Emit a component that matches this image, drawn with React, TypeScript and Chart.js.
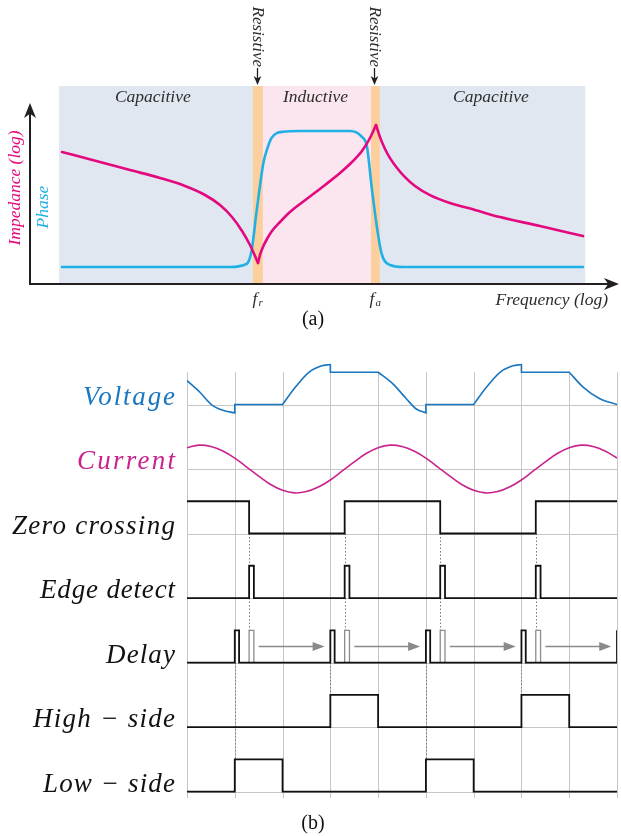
import React, { useEffect, useRef } from "react";
import { Chart, registerables } from "chart.js";

Chart.register(...registerables);

// ===================== (a) impedance / phase vs frequency =====================
// x: log-frequency units (0..100), y: log-impedance / phase units (0..100)
const impedanceFalling = [
  [5.5, 66.67], [12.03, 61.62], [17.18, 57.58], [22.34, 53.54], [26.63, 49.49], [30.07, 44.95],
  [32.65, 39.9], [34.71, 33.84], [36.43, 26.77], [37.8, 19.7], [38.66, 14.14], [39.18, 10.61],
];
const impedanceRising = [
  [39.18, 10.61], [39.52, 14.65], [40.03, 18.69], [40.72, 22.73], [41.58, 26.77], [42.96, 31.31],
  [44.67, 36.36], [46.39, 40.4], [48.45, 44.95], [50.69, 50.0], [53.26, 56.06], [55.33, 61.62],
  [57.04, 67.17], [58.42, 73.74], [59.45, 80.3],
];
const impedanceAfterPeak = [
  [59.45, 80.3], [60.14, 74.2], [61.0, 68.2], [61.86, 63.6], [63.06, 58.6], [64.43, 54.0],
  [66.15, 49.5], [68.73, 44.9], [72.16, 40.9], [76.46, 37.4], [80.76, 33.8], [87.63, 29.3],
  [95.02, 24.2],
];
const phasePoints = [
  [5.5, 8.6], [34.4, 8.6], [37.2, 10.1], [38.1, 17.2], [38.9, 35.9], [40.1, 61.1],
  [40.7, 67.7], [41.5, 73.7], [43.5, 76.9], [46.4, 77.3], [55.0, 77.3], [57.0, 74.4],
  [57.9, 69.3], [58.7, 49.1], [59.6, 28.9], [60.4, 15.5], [61.9, 9.6], [64.1, 8.6],
  [95.0, 8.6],
];
const shadedSpan = [5.0, 95.4];
const resonanceBand = [38.3, 40.0];
const antiResonanceBand = [58.6, 60.1];
const regionNames = ["Capacitive", "Inductive", "Capacitive"];
const regionCenters = [21.1, 49.05, 79.2];

// ===================== (b) timing diagram =====================
const rowLabels = ["Voltage", "Current", "Zero crossing", "Edge detect", "Delay", "High − side", "Low − side"];
const gridColumns = [0, 1, 2, 3, 4, 5, 6, 7, 8, 9];
const currentTimes = [
  0, 0.25, 0.5, 0.75, 1, 1.25, 1.5, 1.75, 2, 2.25, 2.5, 2.75, 3, 3.25, 3.5, 3.75, 4, 4.25, 4.5,
  4.75, 5, 5.25, 5.5, 5.75, 6, 6.25, 6.5, 6.75, 7, 7.25, 7.5, 7.75, 8, 8.25, 8.5, 8.75, 9,
];
const currentValues = [
  0.33, 0.37, 0.35, 0.28, 0.17, 0.03, -0.11, -0.24, -0.33, -0.37, -0.35, -0.28, -0.17, -0.03,
  0.11, 0.24, 0.33, 0.37, 0.35, 0.28, 0.17, 0.03, -0.11, -0.24, -0.33, -0.37, -0.35, -0.28,
  -0.17, -0.03, 0.11, 0.24, 0.33, 0.37, 0.35, 0.28, 0.17,
];
const voltageCurves = [
  [[0, 0.37], [0.27, 0.19], [0.51, 0.0], [0.75, -0.09], [1, -0.13]],
  [[2, 0], [2.27, 0.27], [2.55, 0.5], [2.82, 0.6], [3, 0.62]],
  [[4, 0.5], [4.31, 0.32], [4.59, 0.09], [4.8, -0.07], [5, -0.13]],
  [[6, 0], [6.27, 0.27], [6.55, 0.5], [6.82, 0.6], [7, 0.62]],
  [[8, 0.5], [8.29, 0.27], [8.64, 0.09], [9, 0]],
];
const voltageSteps = [
  [[1, -0.13], [1, 0], [2, 0]],
  [[3, 0.62], [3, 0.5], [4, 0.5]],
  [[5, -0.13], [5, 0], [6, 0]],
  [[7, 0.62], [7, 0.5], [8, 0.5]],
];
const zeroCrossingHigh = [[0, 1.3], [3.3, 5.3], [7.3, 9]];
const edgeDetectPulses = [[1.3, 1.4], [3.3, 3.4], [5.3, 5.4], [7.3, 7.4]];
const delayPulses = [[1.0, 1.09], [3.0, 3.09], [5.0, 5.09], [7.0, 7.09], [9.0, 9.09]];
const delayEchoPulses = [[1.3, 1.4], [3.3, 3.4], [5.3, 5.4], [7.3, 7.4]];
const highSidePulses = [[3, 4], [7, 8]];
const lowSidePulses = [[1, 2], [5, 6]];

// ---------- styles ----------
const IMP_COLOR = "#e4087f";
const PHASE_COLOR = "#1fb0e6";
const VOLT_COLOR = "#1a76bf";
const CURR_COLOR = "#c9238c";
const GRID_COLOR = "#c6c6c6";
const SERIF = '"Liberation Serif", "Times New Roman", serif';
const labelWidths = [92, 98, 163, 135, 69, 142, 132];
const labelColors = [VOLT_COLOR, CURR_COLOR, "#111", "#111", "#111", "#111", "#111"];
const X_END = 9;
const PULSE_H = 0.5;

function stealth(ctx: CanvasRenderingContext2D, tx: number, ty: number, dx: number, dy: number, len: number, half: number) {
  const bx = tx - dx * len;
  const by = ty - dy * len;
  const nx = -dy;
  const ny = dx;
  ctx.beginPath();
  ctx.moveTo(tx, ty);
  ctx.lineTo(bx + nx * half, by + ny * half);
  ctx.lineTo(tx - dx * len * 0.72, ty - dy * len * 0.72);
  ctx.lineTo(bx - nx * half, by - ny * half);
  ctx.closePath();
  ctx.fill();
}

const pts = (arr: number[][], off = 0) => arr.map(([x, y]) => ({ x, y: y + off }));

const panelAPlugin = {
  id: "panelA",
  beforeDatasetsDraw(chart: any) {
    const { ctx, scales } = chart;
    const x = scales.x;
    const y = scales.y;
    const top = y.getPixelForValue(100);
    const bottom = y.getPixelForValue(0);
    const px = (v: number) => x.getPixelForValue(v);
    ctx.save();
    ctx.fillStyle = "#e1e7f1";
    ctx.fillRect(px(shadedSpan[0]), top, px(shadedSpan[1]) - px(shadedSpan[0]), bottom - top);
    ctx.fillStyle = "#fbe5ef";
    ctx.fillRect(px(resonanceBand[1]), top, px(antiResonanceBand[0]) - px(resonanceBand[1]), bottom - top);
    ctx.fillStyle = "#fdcf9c";
    for (const b of [resonanceBand, antiResonanceBand]) {
      ctx.fillRect(px(b[0]), top, px(b[1]) - px(b[0]), bottom - top);
    }
    ctx.restore();
  },
  afterDatasetsDraw(chart: any) {
    const { ctx, chartArea: ca, scales } = chart;
    const x = scales.x;
    const y = scales.y;
    const px = (v: number) => x.getPixelForValue(v);
    const top = y.getPixelForValue(100);
    ctx.save();
    // axes
    ctx.strokeStyle = "#231f20";
    ctx.fillStyle = "#231f20";
    ctx.lineWidth = 2;
    ctx.beginPath();
    ctx.moveTo(ca.left, ca.bottom);
    ctx.lineTo(ca.left, ca.top + 26);
    ctx.moveTo(ca.left - 1, ca.bottom);
    ctx.lineTo(ca.right + 1, ca.bottom);
    ctx.stroke();
    stealth(ctx, ca.left, ca.top + 17, 0, -1, 15, 6);
    stealth(ctx, ca.right + 7, ca.bottom, 1, 0, 15, 6);

    // region labels
    ctx.font = `italic 17.5px ${SERIF}`;
    ctx.fillStyle = "#2d2d2d";
    ctx.textAlign = "center";
    ctx.textBaseline = "alphabetic";
    regionNames.forEach((n, i) => ctx.fillText(n, px(regionCenters[i]), y.getPixelForValue(91.7)));

    // resistive markers
    for (const b of [resonanceBand, antiResonanceBand]) {
      const cx = Math.round(px((b[0] + b[1]) / 2)) - 0.5;
      ctx.save();
      ctx.translate(cx, top - 19);
      ctx.rotate(Math.PI / 2);
      ctx.font = `italic 17px ${SERIF}`;
      ctx.fillStyle = "#2d2d2d";
      ctx.textAlign = "right";
      ctx.textBaseline = "middle";
      ctx.fillText("Resistive", 0, 0);
      ctx.restore();
      ctx.strokeStyle = "#231f20";
      ctx.fillStyle = "#231f20";
      ctx.lineWidth = 1.3;
      ctx.beginPath();
      ctx.moveTo(cx, top - 18);
      ctx.lineTo(cx, top - 6);
      ctx.stroke();
      stealth(ctx, cx, top - 1, 0, 1, 9, 3.8);
      // f labels
      ctx.font = `italic 17.5px ${SERIF}`;
      ctx.fillStyle = "#2d2d2d";
      ctx.textAlign = "left";
      ctx.textBaseline = "alphabetic";
      ctx.fillText("f", cx - 5, ca.bottom + 20);
    }
    ctx.font = `italic 11px ${SERIF}`;
    ctx.fillText("r", Math.round(px((resonanceBand[0] + resonanceBand[1]) / 2)) + 0.5, ca.bottom + 22);
    ctx.fillText("a", Math.round(px((antiResonanceBand[0] + antiResonanceBand[1]) / 2)) + 0.5, ca.bottom + 22);

    // axis titles
    ctx.font = `italic 17.5px ${SERIF}`;
    ctx.textAlign = "right";
    ctx.fillStyle = "#2d2d2d";
    ctx.fillText("Frequency (log)", ca.right - 4, ca.bottom + 21);

    ctx.save();
    ctx.translate(15, 188);
    ctx.rotate(-Math.PI / 2);
    ctx.textAlign = "center";
    ctx.textBaseline = "middle";
    ctx.fillStyle = IMP_COLOR;
    ctx.fillText("Impedance (log)", 0, 0);
    ctx.restore();
    ctx.save();
    ctx.translate(43, 207);
    ctx.rotate(-Math.PI / 2);
    ctx.textAlign = "center";
    ctx.textBaseline = "middle";
    ctx.fillStyle = PHASE_COLOR;
    ctx.fillText("Phase", 0, 0);
    ctx.restore();

    ctx.font = `20px ${SERIF}`;
    ctx.fillStyle = "#111";
    ctx.textAlign = "center";
    ctx.fillText("(a)", 313, ca.bottom + 41);
    ctx.restore();
  },
};

function pulseTrain(pulses: number[][], base: number) {
  const out: { x: number; y: number }[] = [];
  if (!(pulses.length && pulses[0][0] <= 0)) out.push({ x: 0, y: base });
  for (const [s, e] of pulses) {
    if (s > 0) out.push({ x: s, y: base }, { x: s, y: base + PULSE_H });
    else out.push({ x: 0, y: base + PULSE_H });
    if (e >= X_END) {
      out.push({ x: X_END, y: base + PULSE_H });
      return out;
    }
    out.push({ x: e, y: base + PULSE_H }, { x: e, y: base });
  }
  out.push({ x: X_END, y: base });
  return out;
}

const rowBase = (i: number) => rowLabels.length - 1 - i;

const panelBPlugin = {
  id: "panelB",
  beforeDatasetsDraw(chart: any) {
    const { ctx, scales } = chart;
    const x = scales.x;
    const y = scales.y;
    ctx.save();
    ctx.strokeStyle = GRID_COLOR;
    ctx.lineWidth = 1;
    for (const c of gridColumns) {
      const p = Math.round(x.getPixelForValue(c)) + 0.5;
      ctx.beginPath();
      ctx.moveTo(p, y.getPixelForValue(6.5));
      ctx.lineTo(p, y.getPixelForValue(-0.1));
      ctx.stroke();
    }
    rowLabels.forEach((_, i) => {
      const p = Math.round(y.getPixelForValue(rowBase(i))) + 0.5;
      ctx.beginPath();
      ctx.moveTo(x.getPixelForValue(0), p);
      ctx.lineTo(x.getPixelForValue(X_END), p);
      ctx.stroke();
    });
    // dotted causal links
    ctx.strokeStyle = "#7a7a7a";
    ctx.setLineDash([1.5, 2]);
    const vdot = (xv: number, y0: number, y1: number) => {
      const p = Math.round(x.getPixelForValue(xv)) + 0.5;
      ctx.beginPath();
      ctx.moveTo(p, y.getPixelForValue(y0));
      ctx.lineTo(p, y.getPixelForValue(y1));
      ctx.stroke();
    };
    const zcBase = rowBase(2);
    const edBase = rowBase(3);
    const dlBase = rowBase(4);
    const hsBase = rowBase(5);
    const lsBase = rowBase(6);
    for (const [s] of edgeDetectPulses) {
      vdot(s, zcBase, edBase + PULSE_H);
      vdot(s, edBase, dlBase + PULSE_H);
    }
    for (const [s] of delayPulses) {
      if (s >= X_END) continue;
      const hs = highSidePulses.some((p) => p[0] === s);
      vdot(s, dlBase, hs ? hsBase + PULSE_H : lsBase + PULSE_H);
    }
    ctx.restore();
  },
  afterDatasetsDraw(chart: any) {
    const { ctx, scales } = chart;
    const x = scales.x;
    const y = scales.y;
    ctx.save();
    // arrows in delay row
    const dlBase = rowBase(4);
    ctx.strokeStyle = "#8a8a8a";
    ctx.fillStyle = "#8a8a8a";
    ctx.lineWidth = 1.4;
    delayEchoPulses.forEach(([, e], i) => {
      const next = delayPulses[i + 1];
      if (!next) return;
      const x0 = x.getPixelForValue(e + 0.1);
      const x1 = x.getPixelForValue(next[0] - 0.12);
      const py = Math.round(y.getPixelForValue(dlBase + 0.25)) + 0.5;
      ctx.beginPath();
      ctx.moveTo(x0, py);
      ctx.lineTo(x1 - 8, py);
      ctx.stroke();
      ctx.beginPath();
      ctx.moveTo(x1, py);
      ctx.lineTo(x1 - 12, py - 4.5);
      ctx.lineTo(x1 - 12, py + 4.5);
      ctx.closePath();
      ctx.fill();
    });
    // row labels
    ctx.font = `italic 27px ${SERIF}`;
    ctx.textBaseline = "alphabetic";
    ctx.textAlign = "left";
    const right = x.getPixelForValue(0) - 12;
    rowLabels.forEach((t, i) => {
      const c: any = ctx;
      if ("letterSpacing" in c) c.letterSpacing = "0px";
      const w0 = ctx.measureText(t).width;
      const sp = (labelWidths[i] - w0) / Math.max(1, t.length - 1);
      if ("letterSpacing" in c) c.letterSpacing = `${sp.toFixed(2)}px`;
      ctx.fillStyle = labelColors[i];
      ctx.fillText(t, right - labelWidths[i], y.getPixelForValue(rowBase(i)));
    });
    const c: any = ctx;
    if ("letterSpacing" in c) c.letterSpacing = "0px";
    ctx.font = `20px ${SERIF}`;
    ctx.fillStyle = "#111";
    ctx.textAlign = "center";
    ctx.fillText("(b)", 313, y.getPixelForValue(-0.1) + 31);
    ctx.restore();
  },
};

function configA(): any {
  const line = (data: number[][], color: string, order: number) => ({
    data: pts(data),
    borderColor: color,
    borderWidth: 2.6,
    borderCapStyle: "round",
    borderJoinStyle: "round",
    cubicInterpolationMode: "monotone",
    pointRadius: 0,
    fill: false,
    order,
  });
  return {
    type: "line",
    data: {
      datasets: [
        line(impedanceFalling, IMP_COLOR, 0),
        line(impedanceRising, IMP_COLOR, 0),
        line(impedanceAfterPeak, IMP_COLOR, 0),
        line(phasePoints, PHASE_COLOR, 1),
      ],
    },
    options: {
      animation: false,
      responsive: false,
      devicePixelRatio: 1,
      events: [],
      layout: { padding: { left: 30, right: 9, top: 86, bottom: 46 } },
      scales: {
        x: { type: "linear", min: 0, max: 100, display: false },
        y: { type: "linear", min: 0, max: 100, display: false },
      },
      plugins: { legend: { display: false }, tooltip: { enabled: false } },
    },
    plugins: [panelAPlugin],
  };
}

function configB(): any {
  const ds: any[] = [];
  const base = (d: any, color: string, width: number, order: number) => ({
    data: d,
    borderColor: color,
    borderWidth: width,
    pointRadius: 0,
    fill: false,
    tension: 0,
    borderJoinStyle: "miter",
    order,
  });
  for (const c of voltageCurves) {
    ds.push({ ...base(pts(c, rowBase(0)), VOLT_COLOR, 1.6, 1), cubicInterpolationMode: "monotone", borderCapStyle: "round" });
  }
  for (const s of voltageSteps) ds.push(base(pts(s, rowBase(0)), VOLT_COLOR, 1.6, 1));
  ds.push({
    ...base(currentTimes.map((t, i) => ({ x: t, y: rowBase(1) + currentValues[i] })), CURR_COLOR, 1.6, 1),
    tension: 0.4,
  });
  ds.push(base(pulseTrain(zeroCrossingHigh, rowBase(2)), "#111", 1.8, 1));
  ds.push(base(pulseTrain(edgeDetectPulses, rowBase(3)), "#111", 1.8, 1));
  for (const [s, e] of delayEchoPulses) {
    const b = rowBase(4);
    ds.push(base([{ x: s, y: b }, { x: s, y: b + PULSE_H }, { x: e, y: b + PULSE_H }, { x: e, y: b }], "#8c8c8c", 1.3, 2));
  }
  ds.push(base(pulseTrain(delayPulses, rowBase(4)), "#111", 1.8, 1));
  ds.push(base(pulseTrain(highSidePulses, rowBase(5)), "#111", 1.8, 1));
  ds.push(base(pulseTrain(lowSidePulses, rowBase(6)), "#111", 1.8, 1));
  return {
    type: "line",
    data: { datasets: ds },
    options: {
      animation: false,
      responsive: false,
      devicePixelRatio: 1,
      events: [],
      layout: { padding: { left: 187, right: 4, top: 10, bottom: 38 } },
      scales: {
        x: { type: "linear", min: 0, max: X_END, display: false },
        y: { type: "linear", min: -0.1, max: 7.0, display: false },
      },
      plugins: { legend: { display: false }, tooltip: { enabled: false } },
    },
    plugins: [panelBPlugin],
  };
}

export default function App() {
  const refA = useRef<HTMLCanvasElement>(null);
  const refB = useRef<HTMLCanvasElement>(null);
  useEffect(() => {
    const a = new Chart(refA.current as HTMLCanvasElement, configA());
    const b = new Chart(refB.current as HTMLCanvasElement, configB());
    return () => {
      a.destroy();
      b.destroy();
    };
  }, []);
  return (
    <div style={{ position: "absolute", left: 0, top: 0, width: 621, height: 836, background: "#fff" }}>
      <canvas ref={refA} width={621} height={330} style={{ position: "absolute", left: 0, top: 0 }} />
      <canvas ref={refB} width={621} height={506} style={{ position: "absolute", left: 0, top: 330 }} />
    </div>
  );
}
